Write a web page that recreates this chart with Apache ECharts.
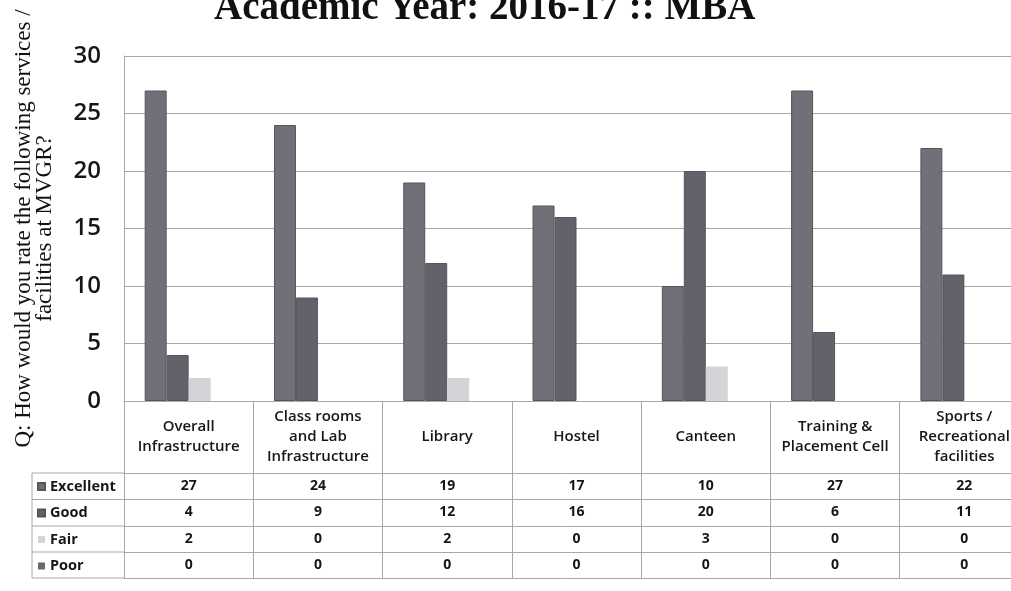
<!DOCTYPE html>
<html>
<head>
<meta charset="utf-8">
<script src="https://cdn.jsdelivr.net/npm/echarts@6/dist/echarts.min.js"></script>
<style>
  html, body { margin: 0; padding: 0; background: #fff; }
  #chart { width: 1011px; height: 591px; }
</style>
</head>
<body>
<div id="chart"></div>
<script>
// survey data, MBA 2016-17
const categories = [
    'Overall\nInfrastructure',
    'Class rooms\nand Lab\nInfrastructure',
    'Library',
    'Hostel',
    'Canteen',
    'Training &\nPlacement Cell',
    'Sports /\nRecreational\nfacilities'
];
const excellent = [27, 24, 19, 17, 10, 27, 22];
const good = [4, 9, 12, 16, 20, 6, 11];
const fair = [2, 0, 2, 0, 3, 0, 0];
const poor = [0, 0, 0, 0, 0, 0, 0];
const yTicks = [0, 5, 10, 15, 20, 25, 30];

const rows = [
    { name: 'Excellent', values: excellent, color: '#707078' },
    { name: 'Good', values: good, color: '#62626a' },
    { name: 'Fair', values: fair, color: '#d4d4d8' },
    { name: 'Poor', values: poor, color: '#68686e' }
];

const lineColor = '#a8a8a8';
const textColor = '#161616';
const sans = '"Open Sans", "Liberation Sans", sans-serif';
const serif = '"Liberation Serif", "DejaVu Serif", serif';

const gridTop = 56, gridLeft = 124, gridHeight = 345;
const axisY = gridTop + gridHeight;        // 401
const rowLines = [473, 499.5, 526, 552, 578];

const el = document.getElementById('chart');
const chart = echarts.init(el, null, { renderer: 'canvas' });

// main category axis + one axis per table row (values come from the series arrays)
const xAxes = [{
    type: 'category',
    data: categories,
    position: 'bottom',
    axisLine: { show: true, lineStyle: { color: lineColor } },
    axisTick: { show: true, length: rowLines[4] - axisY, interval: 0, lineStyle: { color: lineColor } },
    axisLabel: {
        interval: 0, margin: 36, verticalAlign: 'middle',
        fontFamily: sans, fontSize: 15, fontWeight: 600, lineHeight: 20, color: textColor
    }
}];
rows.forEach((r, i) => {
    xAxes.push({
        type: 'category',
        data: categories,
        position: 'bottom',
        offset: rowLines[i] - axisY,
        axisLine: { show: true, lineStyle: { color: lineColor } },
        axisTick: { show: false },
        axisLabel: {
            interval: 0, margin: 13, verticalAlign: 'middle',
            fontFamily: sans, fontSize: 14, fontWeight: 'bold', color: textColor,
            formatter: (v, idx) => String(r.values[idx])
        }
    });
});
// bottom border of the table
xAxes.push({
    type: 'category',
    data: categories,
    position: 'bottom',
    offset: rowLines[4] - axisY,
    axisLine: { show: true, lineStyle: { color: lineColor } },
    axisTick: { show: false },
    axisLabel: { show: false }
});

const tableLines = [
    { type: 'line', shape: { x1: 32, y1: rowLines[0], x2: 32, y2: rowLines[4] }, style: { stroke: lineColor, lineWidth: 1 } }
].concat(rowLines.map(y => ({
    type: 'line', shape: { x1: 32, y1: y, x2: gridLeft, y2: y }, style: { stroke: lineColor, lineWidth: 1 }
})));

const option = {
    backgroundColor: '#fff',
    animation: false,
    title: {
        text: 'Academic Year: 2016-17 :: MBA',
        left: 214,
        top: -10,
        padding: 0,
        textStyle: { fontFamily: serif, fontSize: 39, fontWeight: 'bold', color: '#111', lineHeight: 38 }
    },
    legend: {
        orient: 'vertical',
        left: 37,
        top: 479,
        padding: 0,
        itemWidth: 7,
        itemHeight: 7,
        itemGap: 11.5,
        icon: 'rect',
        data: rows.map(r => r.name),
        textStyle: { fontFamily: sans, fontSize: 14.5, fontWeight: 'bold', color: textColor, lineHeight: 15 }
    },
    grid: {
        left: gridLeft, top: gridTop, width: 905, height: gridHeight,
        containLabel: false, outerBoundsMode: 'none'
    },
    xAxis: xAxes,
    yAxis: {
        type: 'value',
        min: yTicks[0],
        max: yTicks[yTicks.length - 1],
        interval: yTicks[1] - yTicks[0],
        name: 'Q: How would you rate the following services /\nfacilities at MVGR?',
        nameLocation: 'middle',
        nameRotate: 90,
        nameGap: 69,
        nameTextStyle: { fontFamily: serif, fontSize: 23, lineHeight: 21, color: '#111' },
        axisLine: { show: true, lineStyle: { color: lineColor } },
        axisTick: { show: false },
        axisLabel: { margin: 23, fontFamily: sans, fontSize: 24, fontWeight: 600, color: textColor },
        splitLine: { show: true, lineStyle: { color: lineColor, width: 1 } }
    },
    series: rows.map(r => ({
        name: r.name,
        type: 'bar',
        data: r.values,
        barGap: '0%',
        barCategoryGap: '32%',
        itemStyle: {
            color: r.color,
            borderColor: '#55555b',
            borderWidth: (r.name === 'Excellent' || r.name === 'Good') ? 1 : 0
        }
    })),
    graphic: tableLines
};

chart.setOption(option);
window.addEventListener('resize', () => chart.resize());
</script>
</body>
</html>
